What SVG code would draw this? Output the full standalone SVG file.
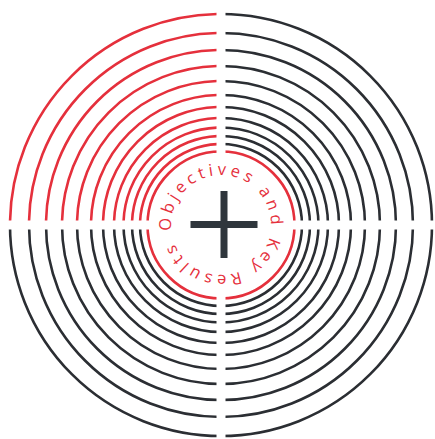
<svg xmlns="http://www.w3.org/2000/svg" width="435" height="439" viewBox="0 0 435 439">
  <style>
    .ring { fill: none; stroke-width: 2.6; }
    .red { stroke: #e5303c; }
    .dark { stroke: #2b2e33; }
    .label { font-family: "Open Sans", "Noto Sans", sans-serif; font-size: 16.5px; fill: #e5303c; letter-spacing: 3.8px; }
    .bar { fill: #2f363c; }
  </style>
  <defs>
    <clipPath id="q-tl"><rect x="0" y="0" width="216.5" height="220.5"/></clipPath>
    <clipPath id="q-rest">
      <rect x="225.5" y="0" width="209.5" height="220.5"/>
      <rect x="0" y="229.5" width="216.5" height="209.5"/>
      <rect x="225.5" y="229.5" width="209.5" height="209.5"/>
    </clipPath>
    <clipPath id="q-all">
      <rect x="0" y="0" width="216.5" height="220.5"/>
      <rect x="225.5" y="0" width="209.5" height="220.5"/>
      <rect x="0" y="229.5" width="216.5" height="209.5"/>
      <rect x="225.5" y="229.5" width="209.5" height="209.5"/>
    </clipPath>
    <path id="textArc" d="M 171.37 231.09 A 50 50 0 0 1 270.63 218.91 A 50 50 0 0 1 171.37 231.09"/>
  </defs>
  <rect width="435" height="439" fill="#ffffff"/>

  <g id="rings-red" clip-path="url(#q-tl)">
    <circle class="ring red" cx="221" cy="225" r="81"/>
    <circle class="ring red" cx="221" cy="225" r="89"/>
    <circle class="ring red" cx="221" cy="225" r="97.5"/>
    <circle class="ring red" cx="221" cy="225" r="107"/>
    <circle class="ring red" cx="221" cy="225" r="118"/>
    <circle class="ring red" cx="221" cy="225" r="130"/>
    <circle class="ring red" cx="221" cy="225" r="144"/>
    <circle class="ring red" cx="221" cy="225" r="159"/>
    <circle class="ring red" cx="221" cy="225" r="175"/>
    <circle class="ring red" cx="221" cy="225" r="192"/>
    <circle class="ring red" cx="221" cy="225" r="211"/>
  </g>

  <g id="rings-dark" clip-path="url(#q-rest)">
    <circle class="ring dark" cx="221" cy="225" r="81"/>
    <circle class="ring dark" cx="221" cy="225" r="89"/>
    <circle class="ring dark" cx="221" cy="225" r="97.5"/>
    <circle class="ring dark" cx="221" cy="225" r="107"/>
    <circle class="ring dark" cx="221" cy="225" r="118"/>
    <circle class="ring dark" cx="221" cy="225" r="130"/>
    <circle class="ring dark" cx="221" cy="225" r="144"/>
    <circle class="ring dark" cx="221" cy="225" r="159"/>
    <circle class="ring dark" cx="221" cy="225" r="175"/>
    <circle class="ring dark" cx="221" cy="225" r="192"/>
    <circle class="ring dark" cx="221" cy="225" r="211"/>
  </g>

  <g id="ring-inner" clip-path="url(#q-all)">
    <circle class="ring red" cx="221" cy="225" r="73.5"/>
  </g>

  <g id="center">
    <text class="label"><textPath href="#textArc">Objectives and Key Results</textPath></text>
    <rect class="bar" x="190.5" y="221" width="67" height="7"/>
    <rect class="bar" x="220.5" y="191" width="7" height="67"/>
  </g>
</svg>
